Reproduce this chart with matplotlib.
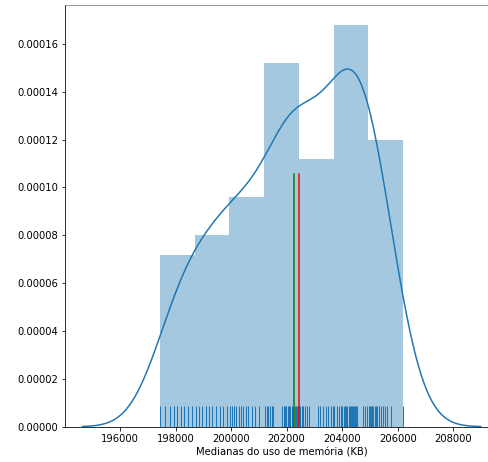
import numpy as np
import matplotlib
matplotlib.use('Agg')
import matplotlib.pyplot as plt
import seaborn as sns

# medianas do uso de memória por execução (KB)
medianas_kb = [
    197441, 197620, 197790, 197930, 198050, 198180, 198310, 198440, 198580,
    198730, 198840, 198960, 199080, 199200, 199330, 199460, 199590, 199720, 199850,
    199960, 200030, 200110, 200190, 200270, 200350, 200430, 200520, 200620, 200740,
    200870, 201000,
    201220, 201280, 201340, 201400, 201460, 201500, 201850, 201900, 201940, 201990,
    202040, 202090, 202140, 202190, 202240, 202290, 202340, 202380, 202420,
    202460, 202500, 202550, 202600, 202660, 202720, 202790, 203120, 203220, 203320,
    203410, 203500, 203590, 203670,
    203720, 203800, 203880, 203950, 204010, 204060, 204110, 204150, 204190, 204230,
    204270, 204310, 204350, 204390, 204430, 204470, 204510, 204530, 204740, 204820,
    204900,
    204960, 205000, 205040, 205080, 205120, 205170, 205220, 205270, 205330, 205390,
    205460, 205540, 205630, 205760, 206198,
]
n_bins = 7

dados = np.array(medianas_kb, dtype=float)
media = dados.mean()
mediana = np.median(dados)

fig = plt.figure(figsize=(488 / 72, 462 / 72), dpi=72)
ax = fig.add_axes([65 / 488, 35.3 / 462, 434 / 488, 421.7 / 462])

# histograma + kde + rug (equivalente ao distplot)
ax.hist(dados, bins=n_bins, density=True, color='C0', alpha=0.4)
sns.kdeplot(dados, ax=ax, color='C0', cut=3, linewidth=1.5)
sns.rugplot(dados, ax=ax, color='C0', height=0.05, linewidth=1,
            expand_margins=False)

ax.axvline(media, ymax=0.6, color='g', linewidth=1.5)
ax.axvline(mediana, ymax=0.6, color='r', linewidth=1.5)

ax.set_xlim(194018, 209650)
ax.set_ylabel('')
ax.set_xlabel('Medianas do uso de memória (KB)')
ax.spines['top'].set_color('#808080')
ax.spines['right'].set_visible(False)

fig.savefig('out.png', dpi=72)
